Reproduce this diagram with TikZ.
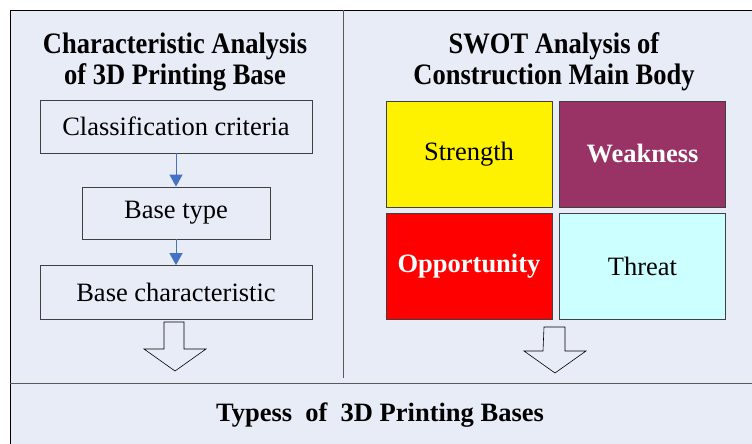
\documentclass[tikz,border=0pt]{standalone}
\usepackage{fontspec}
\usepackage{graphicx}
\setmainfont{Liberation Serif}
\usetikzlibrary{arrows.meta,calc}
\definecolor{panelbg}{HTML}{E8ECF7}
\definecolor{rulegray}{HTML}{5A5A5A}
\definecolor{boxline}{HTML}{404040}
\definecolor{flowblue}{HTML}{4472C4}
\definecolor{weakcol}{HTML}{993366}
\definecolor{threatcol}{HTML}{CCFFFF}
% two-line heading, set slightly taller than wide
\newcommand\headtwo[2]{\scalebox{1}[1.12]{\setlength\tabcolsep{0pt}%
  \begin{tabular}{c}#1\\[-2pt]#2\end{tabular}}}
\tikzset{
  bodyfont/.style={font=\fontsize{26.5}{28}\selectfont},
  titlefont/.style={font=\bfseries\fontsize{26.5}{29.5}\selectfont, align=center, inner sep=0pt},
  stepbox/.style={draw=boxline, line width=0.8pt, bodyfont, minimum height=53pt, inner sep=0pt},
  swot/.style={draw=boxline, line width=0.8pt, bodyfont, minimum width=166pt, minimum height=106pt, inner sep=0pt},
  flow/.style={draw=flowblue, line width=0.9pt, -{Triangle[length=12pt,width=13pt]}},
  hollow/.style={draw=black, line width=0.6pt, fill=panelbg, line join=miter},
}
\begin{document}
\begin{tikzpicture}[x=1pt,y=-1pt]
\useasboundingbox (0,0) rectangle (752,444);
% panel background and frame
\fill[white] (0,0) rectangle (752,444);
\fill[panelbg] (10,10) rectangle (752,444);
\draw[black, line width=0.8pt] (10,444) -- (10,10) -- (752,10);
\draw[rulegray, line width=0.8pt] (343,10) -- (343,378);
\draw[rulegray, line width=0.8pt] (10,383) -- (752,383);

% left column
\node[titlefont] (ltitle) at (175,62) {\headtwo{Characteristic Analysis}{of 3D Printing Base}};
\node[stepbox, minimum width=272pt] (crit) at (176,126.5) {Classification criteria};
\node[stepbox, minimum width=188pt, minimum height=52pt] (btype) at (176,213) {Base type};
\node[stepbox, minimum width=272pt, minimum height=54pt] (bchar) at (176,292.5) {Base characteristic};
\draw[flow] (crit.south) -- (btype.north);
\draw[flow] (btype.south) -- (bchar.north);

% right column
\node[titlefont] (rtitle) at (554,62) {\headtwo{SWOT Analysis of}{Construction Main Body}};
\node[swot, fill=yellow] (str) at (469,154) {Strength};
\node[swot, fill=weakcol, text=white, font=\bfseries\fontsize{26.5}{28}\selectfont] (weak) at (642.5,154) {Weakness};
\node[swot, fill=red, text=white, font=\bfseries\fontsize{26.5}{28}\selectfont] (opp) at (469,266.5) {Opportunity};
\node[swot, fill=threatcol] (thr) at (642.5,266.5) {Threat};

% block arrows into the bottom band
\coordinate (la) at (175,322);
\draw[hollow] ($(la)+(-11,0)$) -- ($(la)+(9,0)$) -- ($(la)+(9,27)$) -- ($(la)+(31,27)$)
  -- ($(la)+(0,49)$) -- ($(la)+(-31,27)$) -- ($(la)+(-11,27)$) -- cycle;
\coordinate (ra) at (555,327);
\draw[hollow] ($(ra)+(-11,0)$) -- ($(ra)+(10,0)$) -- ($(ra)+(10,24)$) -- ($(ra)+(31,24)$)
  -- ($(ra)+(0,46)$) -- ($(ra)+(-31,24)$) -- ($(ra)+(-12,24)$) -- cycle;

% bottom band
\node[titlefont] (types) at (380,415) {Typess\ \ of\ \ 3D Printing Bases};
\end{tikzpicture}
\end{document}
